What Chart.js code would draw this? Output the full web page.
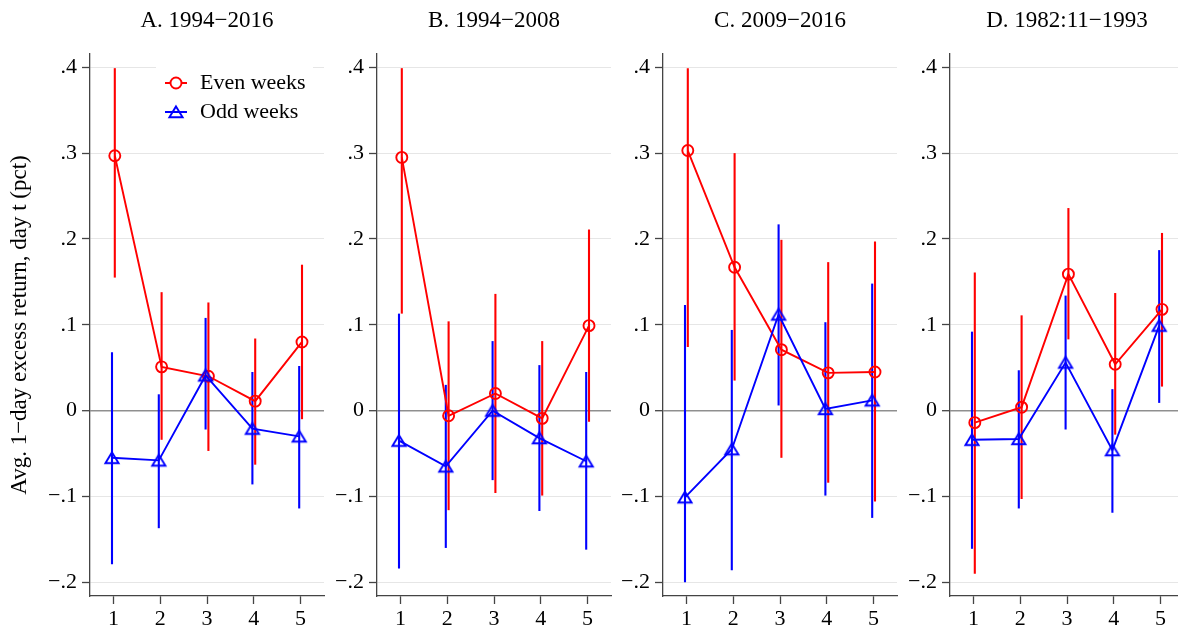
<!DOCTYPE html>
<html><head><meta charset="utf-8">
<script src="https://cdn.jsdelivr.net/npm/chart.js@4.4.0/dist/chart.umd.min.js"></script>
<style>
html,body{margin:0;padding:0;background:#fff;overflow:hidden;width:1178px;height:630px;position:relative;}
canvas{position:absolute;top:0;}
</style></head><body>
<canvas id="c0" width="414" height="630" style="left:0px"></canvas>
<canvas id="c1" width="414" height="630" style="left:287px"></canvas>
<canvas id="c2" width="414" height="630" style="left:573px"></canvas>
<canvas id="c3" width="414" height="630" style="left:860px"></canvas>
<script>
// ---- data ----
const days = [1, 2, 3, 4, 5];
const yTicks = [-0.2, -0.1, 0, 0.1, 0.2, 0.3, 0.4];
const yTickLabels = ['−.2', '−.1', '0', '.1', '.2', '.3', '.4'];
const panelTitles = ['A. 1994−2016', 'B. 1994−2008', 'C. 2009−2016', 'D. 1982:11−1993'];
const seriesNames = ['Even weeks', 'Odd weeks'];
const yTitle = 'Avg. 1−day excess return, day t (pct)';

// Panel A 1994-2016
const evenMeanA = [0.297, 0.051, 0.040, 0.011, 0.080];
const evenLowA  = [0.155, -0.034, -0.047, -0.063, -0.010];
const evenHighA = [0.399, 0.138, 0.126, 0.084, 0.170];
const oddMeanA  = [-0.055, -0.058, 0.041, -0.021, -0.030];
const oddLowA   = [-0.179, -0.137, -0.022, -0.086, -0.114];
const oddHighA  = [0.068, 0.019, 0.108, 0.045, 0.052];

// Panel B 1994-2008
const evenMeanB = [0.295, -0.006, 0.020, -0.009, 0.099];
const evenLowB  = [0.113, -0.116, -0.096, -0.099, -0.013];
const evenHighB = [0.399, 0.104, 0.136, 0.081, 0.211];
const oddMeanB  = [-0.035, -0.065, 0.000, -0.032, -0.059];
const oddLowB   = [-0.184, -0.160, -0.081, -0.117, -0.162];
const oddHighB  = [0.113, 0.030, 0.081, 0.053, 0.045];

// Panel C 2009-2016
const evenMeanC = [0.303, 0.167, 0.071, 0.044, 0.045];
const evenLowC  = [0.074, 0.035, -0.055, -0.084, -0.106];
const evenHighC = [0.399, 0.300, 0.199, 0.173, 0.197];
const oddMeanC  = [-0.101, -0.045, 0.112, 0.002, 0.012];
const oddLowC   = [-0.200, -0.186, 0.006, -0.099, -0.125];
const oddHighC  = [0.123, 0.094, 0.217, 0.103, 0.148];

// Panel D 1982:11-1993
const evenMeanD = [-0.014, 0.004, 0.159, 0.054, 0.118];
const evenLowD  = [-0.190, -0.103, 0.083, -0.028, 0.028];
const evenHighD = [0.161, 0.111, 0.236, 0.137, 0.207];
const oddMeanD  = [-0.034, -0.033, 0.056, -0.046, 0.099];
const oddLowD   = [-0.161, -0.114, -0.022, -0.119, 0.009];
const oddHighD  = [0.092, 0.047, 0.134, 0.025, 0.187];

// ---- styling ----
const RED = '#ff0000', BLUE = '#0000ff';
const FONT = "'Liberation Serif', 'DejaVu Serif', 'Times New Roman', serif";
const DODGE = 0.03; // small horizontal dodge between the two series
Chart.defaults.font.family = FONT;
Chart.defaults.color = '#000';

// hollow triangle marker whose bounding box is centred on the point (Stata-like)
function makeTriangle(color) {
  const c = document.createElement('canvas');
  c.width = 22; c.height = 22;
  const g = c.getContext('2d');
  g.strokeStyle = color; g.lineWidth = 1.9; g.lineJoin = 'miter';
  g.beginPath();
  g.moveTo(11, 5.4);
  g.lineTo(17.6, 16.2);
  g.lineTo(4.4, 16.2);
  g.closePath();
  g.stroke();
  return c;
}
const triBlue = makeTriangle(BLUE);

const panels = [
  {even: [evenMeanA, evenLowA, evenHighA], odd: [oddMeanA, oddLowA, oddHighA]},
  {even: [evenMeanB, evenLowB, evenHighB], odd: [oddMeanB, oddLowB, oddHighB]},
  {even: [evenMeanC, evenLowC, evenHighC], odd: [oddMeanC, oddLowC, oddHighC]},
  {even: [evenMeanD, evenLowD, evenHighD], odd: [oddMeanD, oddLowD, oddHighD]}
];

const legendPlugin = {
  id: 'insideLegend',
  afterDraw(chart, args, opts) {
    if (!opts || !opts.show) return;
    const ctx = chart.ctx;
    const x0 = 165, x1 = 187, xm = 176, xt = 200;
    const ys = [83, 112];
    const colors = [RED, BLUE];
    ctx.save();
    ctx.fillStyle = '#fff';
    ctx.fillRect(156, 61, 157, 67);
    seriesNames.forEach((label, k) => {
      const y = ys[k];
      ctx.strokeStyle = colors[k];
      ctx.lineWidth = 2;
      ctx.beginPath(); ctx.moveTo(x0, y); ctx.lineTo(x1, y); ctx.stroke();
      if (k === 0) {
        ctx.fillStyle = '#fff';
        ctx.beginPath(); ctx.arc(xm, y, 5.5, 0, Math.PI * 2); ctx.fill();
        ctx.lineWidth = 1.9; ctx.stroke();
      } else {
        ctx.drawImage(triBlue, xm - 11, y - 11);
      }
      ctx.fillStyle = '#000';
      ctx.font = '22px ' + FONT;
      ctx.textBaseline = 'middle';
      ctx.fillText(label, xt, y);
    });
    ctx.restore();
  }
};

function errDatasets(arrLo, arrHi, color, off, order) {
  return days.map((d, i) => ({
    type: 'scatter',
    data: [{x: d + off, y: arrLo[i]}, {x: d + off, y: arrHi[i]}],
    showLine: true, borderColor: color, borderWidth: 2.1,
    pointRadius: 0, pointHoverRadius: 0, order: order
  }));
}

panels.forEach((p, idx) => {
  const datasets = [];
  datasets.push(...errDatasets(p.even[1], p.even[2], RED, DODGE, 4));
  datasets.push(...errDatasets(p.odd[1], p.odd[2], BLUE, -DODGE, 3));
  datasets.push({
    type: 'scatter', label: seriesNames[0],
    data: days.map((d, i) => ({x: d + DODGE, y: p.even[0][i]})),
    showLine: true, borderColor: RED, borderWidth: 1.9,
    pointStyle: 'circle', pointRadius: 5.5, pointBorderWidth: 1.9,
    pointBorderColor: RED, pointBackgroundColor: 'rgba(255,255,255,0)', order: 2
  });
  datasets.push({
    type: 'scatter', label: seriesNames[1],
    data: days.map((d, i) => ({x: d - DODGE, y: p.odd[0][i]})),
    showLine: true, borderColor: BLUE, borderWidth: 1.9,
    pointStyle: triBlue, pointRadius: 7, order: 1
  });

  new Chart(document.getElementById('c' + idx), {
    type: 'scatter',
    data: {datasets},
    plugins: [legendPlugin],
    options: {
      responsive: false, animation: false, devicePixelRatio: 1,
      layout: {padding: {left: 0, right: 90, top: 0, bottom: 0}},
      plugins: {
        legend: {display: false},
        tooltip: {enabled: false},
        insideLegend: {show: idx === 0},
        title: {
          display: true, text: panelTitles[idx], fullSize: false,
          font: {size: 23, weight: 'normal', family: FONT, lineHeight: 1.2}, color: '#000',
          padding: {top: 7, bottom: 19.4}
        }
      },
      scales: {
        x: {
          type: 'linear', min: 0.5, max: 5.5,
          afterBuildTicks: s => { s.ticks = days.map(v => ({value: v})); },
          afterFit: s => { s.height = 34; },
          grid: {drawOnChartArea: false, drawTicks: true, tickLength: 8, tickColor: '#444', tickWidth: 1.3},
          border: {color: '#444', width: 1.3},
          ticks: {font: {size: 22}, color: '#000', padding: 2, maxRotation: 0,
                  callback: v => String(v)}
        },
        y: {
          type: 'linear', min: -0.216, max: 0.4155,
          afterBuildTicks: s => { s.ticks = yTicks.map(v => ({value: v})); },
          afterFit: s => { s.width = 90; },
          grid: {
            color: c => (c.tick && Math.abs(c.tick.value) < 1e-9) ? '#8f8f8f' : '#e6e6e6',
            lineWidth: c => (c.tick && Math.abs(c.tick.value) < 1e-9) ? 1.4 : 1,
            drawTicks: true, tickLength: 8, tickColor: '#444', tickWidth: 1.3
          },
          border: {color: '#444', width: 1.3},
          ticks: {font: {size: 22}, color: '#000', padding: 5,
                  callback: (v) => { const k = yTicks.findIndex(t => Math.abs(t - v) < 1e-9); return k >= 0 ? yTickLabels[k] : ''; }},
          title: {display: idx === 0, text: yTitle, font: {size: 23}, color: '#000', padding: {top: 6, bottom: 0}}
        }
      }
    }
  });
});
</script>
</body></html>
